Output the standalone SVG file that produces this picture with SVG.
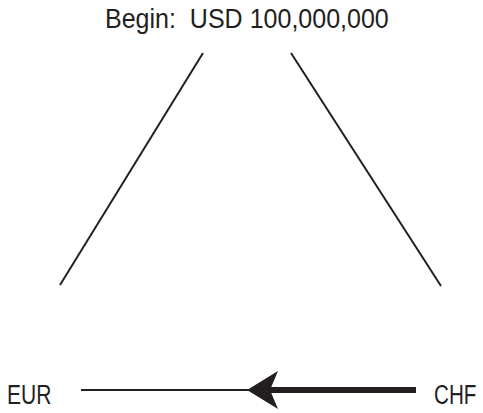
<svg xmlns="http://www.w3.org/2000/svg" width="483" height="413" viewBox="0 0 483 413">
<style>
text{font-family:"Liberation Sans",Arial,sans-serif;font-size:28px;fill:#231f20;white-space:pre}
.ln{stroke:#231f20;stroke-width:2;fill:none}
</style>
<rect width="483" height="413" fill="#fff"/>
<g id="usd"><text transform="translate(105,28) scale(0.894,1)" xml:space="preserve">Begin:  USD 100,000,000</text></g>
<g id="eur"><text transform="translate(7,404) scale(0.752,1)" font-size="29">EUR</text></g>
<g id="chf"><text transform="translate(434,404) scale(0.738,1)" font-size="29">CHF</text></g>
<g id="connectors">
<line class="ln" x1="203" y1="53" x2="60" y2="285"/>
<line class="ln" x1="291" y1="53" x2="441" y2="286"/>
<line class="ln" x1="81" y1="390" x2="250" y2="390"/>
<line stroke="#231f20" stroke-width="6" x1="268" y1="390" x2="416" y2="390"/>
<path d="M247,390 L278,371 L270,390 L278,409 Z" fill="#231f20"/>
</g>
</svg>
